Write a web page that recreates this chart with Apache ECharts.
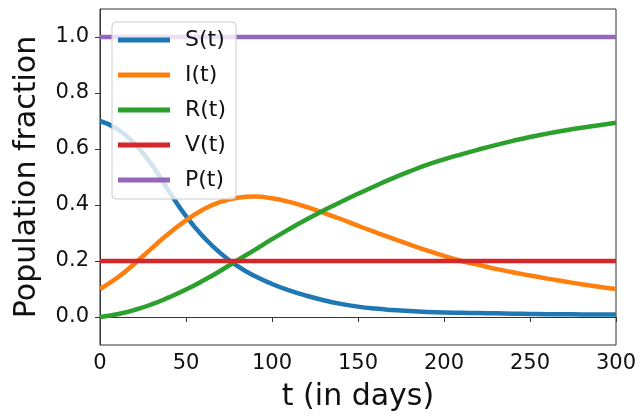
<!DOCTYPE html>
<html lang="en">
<head>
    <meta charset="UTF-8">
    <title>SIR</title>
    <script src="https://cdn.jsdelivr.net/npm/echarts@6/dist/echarts.min.js"></script>
    <style>
        html, body { margin: 0; padding: 0; background: #fff; }
    </style>
</head>
<body>
<div id="box" style="width: 640px;height: 417px;"></div>
<script>
    // t in days, every 10 days
    var days = [0, 10, 20, 30, 40, 50, 60, 70, 80, 90, 100, 110, 120, 130, 140, 150,
        160, 170, 180, 190, 200, 210, 220, 230, 240, 250, 260, 270, 280, 290, 300];
    var sVals = [0.700, 0.672, 0.620, 0.545, 0.450, 0.360, 0.287, 0.228, 0.182, 0.146, 0.118,
        0.095, 0.076, 0.060, 0.047, 0.037, 0.030, 0.025, 0.021, 0.018, 0.016, 0.015, 0.014,
        0.013, 0.012, 0.011, 0.010, 0.010, 0.009, 0.009, 0.009];
    var iVals = [0.100, 0.140, 0.190, 0.245, 0.298, 0.345, 0.384, 0.411, 0.426, 0.430, 0.424,
        0.411, 0.393, 0.372, 0.350, 0.326, 0.303, 0.281, 0.259, 0.238, 0.218, 0.200, 0.186,
        0.172, 0.160, 0.148, 0.137, 0.127, 0.117, 0.108, 0.100];
    var rVals = [0.000, 0.010, 0.025, 0.045, 0.070, 0.098, 0.130, 0.165, 0.203, 0.240, 0.278,
        0.314, 0.348, 0.380, 0.411, 0.440, 0.468, 0.495, 0.520, 0.543, 0.563, 0.581, 0.598,
        0.614, 0.629, 0.643, 0.655, 0.666, 0.676, 0.685, 0.694];
    var vVals = [0.2, 0.2, 0.2, 0.2, 0.2, 0.2, 0.2, 0.2, 0.2, 0.2, 0.2, 0.2, 0.2, 0.2, 0.2, 0.2,
        0.2, 0.2, 0.2, 0.2, 0.2, 0.2, 0.2, 0.2, 0.2, 0.2, 0.2, 0.2, 0.2, 0.2, 0.2];
    var pVals = [1, 1, 1, 1, 1, 1, 1, 1, 1, 1, 1, 1, 1, 1, 1, 1,
        1, 1, 1, 1, 1, 1, 1, 1, 1, 1, 1, 1, 1, 1, 1];
    var names = ['S(t)', 'I(t)', 'R(t)', 'V(t)', 'P(t)'];
    var colors = ['#1f77b4', '#ff7f0e', '#2ca02c', '#d62728', '#9467bd'];
    var yTicks = [0, 0.2, 0.4, 0.6, 0.8, 1.0];

    function pairs(ys) {
        return days.map(function (d, i) { return [d, ys[i]]; });
    }

    var font = 'DejaVu Sans';
    var myChart = echarts.init(document.getElementById('box'));
    var allVals = [sVals, iVals, rVals, vVals, pVals];
    var option = {
        animation: false,
        color: colors,
        grid: {
            left: 100, right: 24, top: 9, bottom: 70,
            show: true, borderColor: '#333', borderWidth: 1
        },
        legend: {
            orient: 'vertical',
            left: 112, top: 22,
            data: names,
            icon: 'rect',
            itemWidth: 52, itemHeight: 5,
            itemGap: 13,
            padding: [7, 10, 8, 6],
            borderColor: '#ccc', borderWidth: 1, borderRadius: 4,
            backgroundColor: 'rgba(255,255,255,0.8)',
            textStyle: { fontFamily: font, fontSize: 22, lineHeight: 22, color: '#111', padding: [0, 0, 0, 10] }
        },
        xAxis: {
            type: 'value', min: 0, max: 300, interval: 50,
            name: 't (in days)', nameLocation: 'middle', nameGap: 37,
            nameTextStyle: { fontFamily: font, fontSize: 30, color: '#111' },
            axisLine: { show: true, lineStyle: { color: '#333' } },
            axisTick: { show: true, length: 5, lineStyle: { color: '#333' } },
            axisLabel: { fontFamily: font, fontSize: 21, color: '#111', margin: 8 },
            splitLine: { show: false }
        },
        yAxis: {
            type: 'value', min: -0.1, max: 1.1,
            name: 'Population fraction', nameLocation: 'middle', nameGap: 58,
            nameTextStyle: { fontFamily: font, fontSize: 30, color: '#111' },
            axisLine: { show: true, lineStyle: { color: '#333' } },
            axisTick: { show: true, length: 5, customValues: yTicks, lineStyle: { color: '#333' } },
            axisLabel: {
                fontFamily: font, fontSize: 21, color: '#111', margin: 11,
                customValues: yTicks,
                formatter: function (v) { return v.toFixed(1); }
            },
            splitLine: { show: false }
        },
        series: names.map(function (n, k) {
            return {
                name: n, type: 'line', data: pairs(allVals[k]),
                smooth: k < 3 ? 0.5 : false,
                showSymbol: false, symbol: 'none',
                lineStyle: { width: 4.5, color: colors[k] },
                itemStyle: { color: colors[k] }
            };
        })
    };
    myChart.setOption(option);
</script>
</body>
</html>
